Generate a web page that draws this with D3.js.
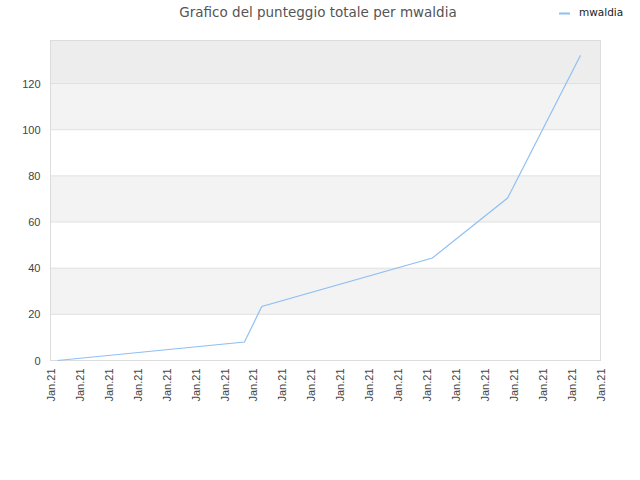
<!DOCTYPE html>
<html lang="it">
<head>
<meta charset="UTF-8">
<title>Grafico del punteggio totale per mwaldia</title>
<script src="https://d3js.org/d3.v7.min.js"></script>
<style>
    body { margin: 0; background: #fff; font-family: "DejaVu Sans", sans-serif; }
    .grid line { stroke: #e0e0e0; }
    .tick text { fill: #444; font-size: 11px; }
</style>
</head>
<body>
<div id="chart"></div>
<script>
// dati
const seriesName = "mwaldia";
const xTickLabels = ["Jan.21","Jan.21","Jan.21","Jan.21","Jan.21","Jan.21","Jan.21","Jan.21","Jan.21","Jan.21",
                     "Jan.21","Jan.21","Jan.21","Jan.21","Jan.21","Jan.21","Jan.21","Jan.21","Jan.21","Jan.21"];
const pointTimes = [0.24, 6.70, 7.30, 13.19, 15.79, 18.31];   // posizione sull'asse (intervalli fra tacche)
const pointScores = [0, 8, 23.4, 44.4, 70.4, 132.3];
const yTicks = [0, 20, 40, 60, 80, 100, 120];

const W = 640, H = 480;
const margin = { top: 40, right: 40, bottom: 120, left: 50 };
const width = W - margin.left - margin.right;
const height = H - margin.top - margin.bottom;

const svg = d3.select("#chart").append("svg")
    .attr("width", W).attr("height", H);

const g = svg.append("g")
    .attr("transform", `translate(${margin.left + 0.5},${margin.top + 0.5})`);

const x = d3.scaleLinear().domain([0, xTickLabels.length - 1]).range([0, width]);
const y = d3.scaleLinear().domain([0, d3.max(pointScores) * 1.048]).range([height, 0]);

// bande di sfondo
const bands = yTicks.map((v, i) => ({ lo: v, hi: i < yTicks.length - 1 ? yTicks[i + 1] : y.domain()[1], i }));
g.selectAll(".band").data(bands).enter().append("rect")
    .attr("x", 0)
    .attr("width", width)
    .attr("y", d => y(d.hi))
    .attr("height", d => y(d.lo) - y(d.hi))
    .attr("fill", d => d.i === bands.length - 1 ? "#ededed" : (d.i % 2 ? "#f3f3f3" : "#ffffff"));

// griglia
g.append("g").attr("class", "grid")
    .selectAll("line").data(yTicks.slice(1)).enter().append("line")
    .attr("x1", 0).attr("x2", width)
    .attr("y1", d => y(d)).attr("y2", d => y(d));

// bordo
g.append("rect")
    .attr("width", width).attr("height", height)
    .attr("fill", "none").attr("stroke", "#dcdcdc");

// asse y
const yAxis = g.append("g")
    .call(d3.axisLeft(y).tickValues(yTicks).tickSize(0).tickPadding(10));
yAxis.select(".domain").remove();

// asse x
const xAxis = g.append("g")
    .attr("transform", `translate(0,${height})`)
    .call(d3.axisBottom(x).tickValues(d3.range(xTickLabels.length))
        .tickFormat(i => xTickLabels[i]).tickSize(0));
xAxis.select(".domain").remove();
xAxis.selectAll("text")
    .attr("transform", "rotate(-90)")
    .attr("text-anchor", "end")
    .attr("x", -8)
    .attr("y", 0)
    .attr("dy", "0.35em");

// linea
const data = pointTimes.map((t, i) => ({ t, v: pointScores[i] }));
g.append("path")
    .datum(data)
    .attr("fill", "none")
    .attr("stroke", "#8fc0f2")
    .attr("stroke-width", 1.2)
    .attr("d", d3.line().x(d => x(d.t)).y(d => y(d.v)));

// titolo
svg.append("text")
    .attr("x", 318).attr("y", 17)
    .attr("text-anchor", "middle")
    .attr("fill", "#555")
    .style("font-size", "13.5px")
    .text("Grafico del punteggio totale per mwaldia");

// legenda
svg.append("line")
    .attr("x1", 559).attr("x2", 570)
    .attr("y1", 13.5).attr("y2", 13.5)
    .attr("stroke", "#8fc0f2").attr("stroke-width", 2);
svg.append("text")
    .attr("x", 579).attr("y", 16)
    .attr("fill", "#222")
    .style("font-size", "10.5px")
    .text(seriesName);
</script>
</body>
</html>
